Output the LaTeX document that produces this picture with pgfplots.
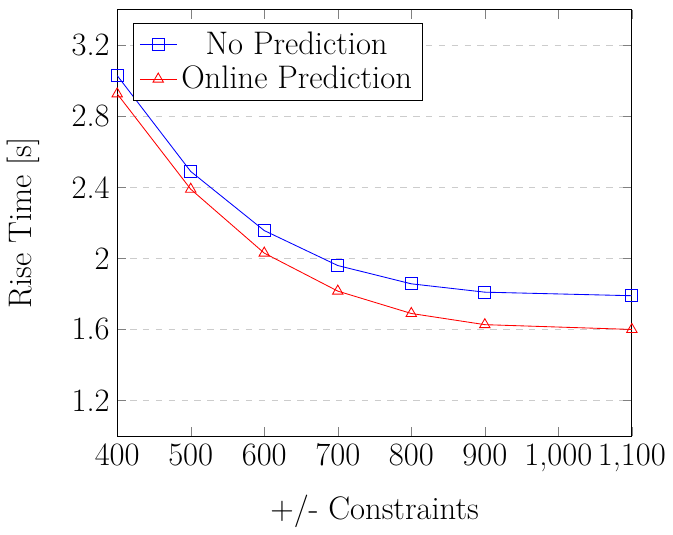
\documentclass[border=0pt]{standalone}
\usepackage{fontspec}
\usepackage{pgfplots}
\pgfplotsset{compat=1.18}
\begin{document}
\begin{tikzpicture}
\begin{axis}[
  scale only axis,
  width=240pt, height=198.7pt,
  xmin=400, xmax=1100,
  ymin=1.0, ymax=3.4,
  xtick={400,500,600,700,800,900,1000,1100},
  ytick={1.2,1.6,2.0,2.4,2.8,3.2},
  /pgf/number format/assume math mode=true,
  ymajorgrids,
  grid style={dashed, gray!40},
  font=\fontsize{15.2}{18}\selectfont,
  xlabel={+/- Constraints},
  ylabel={Rise Time [s]},
  xlabel style={yshift=-4pt},
  ylabel style={yshift=8pt},
  legend pos=north west,
]
\addplot[blue, mark=square, mark size=2.8pt] coordinates {
  (400,3.03) (500,2.49) (600,2.157) (700,1.96) (800,1.857) (900,1.81) (1100,1.79)
};
\addlegendentry{No Prediction}
\addplot[red, mark=triangle, mark size=2.8pt] coordinates {
  (400,2.927) (500,2.39) (600,2.03) (700,1.816) (800,1.69) (900,1.627) (1100,1.6)
};
\addlegendentry{Online Prediction}
\end{axis}
\path ([yshift=4.6pt]current axis.north);
\end{tikzpicture}
\end{document}
